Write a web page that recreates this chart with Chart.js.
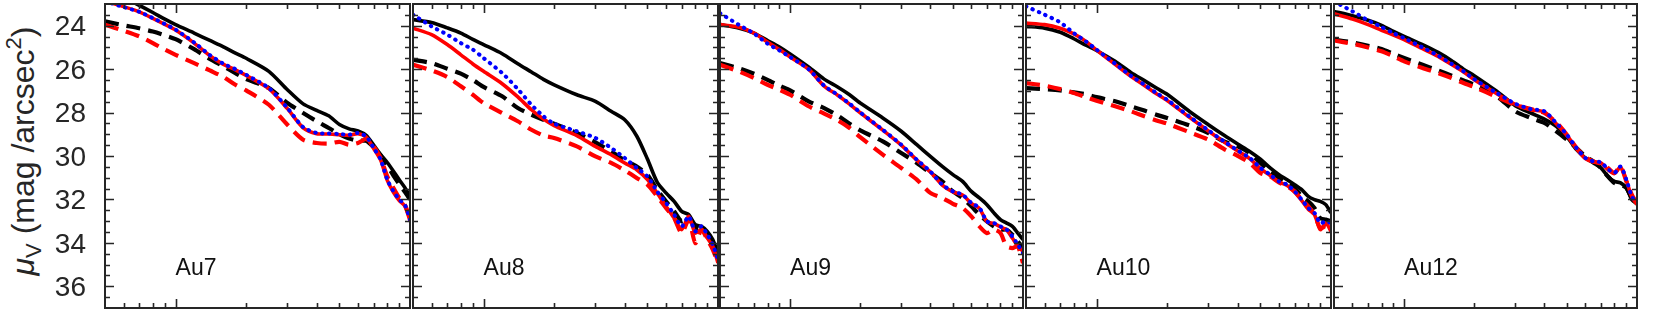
<!DOCTYPE html>
<html>
<head>
<meta charset="utf-8">
<script src="https://cdn.jsdelivr.net/npm/chart.js@4.4.1/dist/chart.umd.min.js"></script>
<style>
body { margin: 0; background: #fff; }
#wrap { position: relative; width: 1661px; height: 314px; overflow: hidden; font-family: "Liberation Sans", Arial, sans-serif; }
#wrap canvas { position: absolute; top: 0; }
#ylab { position: absolute; left: 24px; top: 151px; transform: translate(-50%, -50%) rotate(-90deg);
        white-space: nowrap; font-size: 32px; color: #262626; line-height: 1; }
#ylab sub { font-size: 22px; vertical-align: -7px; }
#ylab sup { font-size: 22px; vertical-align: 13px; }
</style>
</head>
<body>
<div id="wrap">
  <div id="ylab"><i>μ</i><sub>V</sub> (mag /arcsec<sup>2</sup>)</div>
</div>
<script>
// radius grid (log axis), same for every panel
var radii = [5, 6, 7, 8, 9, 10, 12, 14, 16, 18, 20, 25, 30, 35, 40, 45, 50, 55, 60, 65, 70, 75, 80, 85, 90, 95, 100];
var yTicks = [24, 26, 28, 30, 32, 34, 36];
var xTicks = [5, 6, 7, 8, 9, 10, 20, 30, 40, 50, 60, 70, 80, 90, 100];
var panelNames = ['Au7', 'Au8', 'Au9', 'Au10', 'Au12'];

// Au7
var au7BlackSolid = [22.3, 22.7, 23.06, 23.39, 23.7, 23.95, 24.34, 24.68, 24.97, 25.26, 25.5, 26.1, 26.95, 27.6, 27.9, 28.15, 28.55, 28.75, 28.85, 29.05, 29.5, 29.94, 30.3, 30.7, 31.1, 31.45, 31.85];
var au7Blue = [22.88, 23.14, 23.36, 23.65, 23.92, 24.18, 24.77, 25.35, 25.75, 26.0, 26.26, 26.87, 27.79, 28.67, 28.94, 28.96, 28.99, 29.02, 28.94, 29.1, 29.63, 30.17, 31.09, 31.63, 32.0, 32.24, 32.93];
var au7RedSolid = [22.85, 23.12, 23.36, 23.66, 23.94, 24.2, 24.8, 25.38, 25.78, 26.03, 26.29, 26.9, 27.82, 28.7, 28.97, 28.99, 29.02, 29.05, 28.97, 29.13, 29.66, 30.2, 31.12, 31.67, 32.05, 32.3, 32.98];
var au7BlackDashed = [23.8, 23.98, 24.12, 24.27, 24.44, 24.62, 25.08, 25.53, 25.87, 26.18, 26.46, 26.87, 27.56, 28.02, 28.4, 28.71, 29.0, 29.2, 29.3, 29.3, 29.6, 29.98, 30.45, 30.9, 31.3, 31.65, 32.0];
var au7RedDashed = [23.95, 24.23, 24.49, 24.8, 25.1, 25.34, 25.72, 26.06, 26.36, 26.72, 26.98, 27.64, 28.56, 29.25, 29.4, 29.43, 29.35, 29.48, 29.4, 29.22, 29.56, 30.1, 30.94, 31.47, 31.93, 32.24, 32.86];

// Au8
var au8BlackSolid = [23.72, 23.85, 24.1, 24.34, 24.63, 24.87, 25.29, 25.75, 26.13, 26.47, 26.72, 27.18, 27.48, 27.94, 28.33, 29.08, 30.14, 31.2, 31.7, 32.09, 32.55, 32.7, 33.16, 33.24, 33.47, 33.85, 34.47];
var au8Blue = [23.49, 24.03, 24.41, 24.8, 25.1, 25.49, 26.18, 26.92, 27.64, 28.17, 28.51, 28.86, 29.17, 29.63, 30.09, 30.55, 30.94, 31.63, 32.16, 32.7, 33.24, 32.78, 33.47, 33.24, 33.62, 34.08, 34.77];
var au8RedSolid = [24.11, 24.41, 24.87, 25.34, 25.76, 26.1, 26.67, 27.28, 27.87, 28.3, 28.6, 29.06, 29.56, 29.94, 30.32, 30.63, 31.09, 31.7, 32.32, 32.86, 33.39, 32.78, 33.55, 33.39, 33.78, 34.16, 34.93];
var au8BlackDashed = [25.57, 25.72, 25.98, 26.21, 26.5, 26.82, 27.25, 27.79, 28.1, 28.33, 28.51, 28.94, 29.37, 29.79, 30.2, 30.48, 30.86, 31.55, 32.09, 32.55, 33.01, 32.86, 33.32, 33.39, 33.55, 34.0, 34.62];
var au8RedDashed = [25.8, 26.06, 26.36, 26.79, 27.18, 27.56, 28.02, 28.4, 28.79, 29.06, 29.17, 29.56, 30.02, 30.32, 30.66, 31.01, 31.32, 31.86, 32.39, 32.86, 33.55, 32.93, 34.01, 33.39, 33.85, 34.31, 34.93];

// Au9
var au9BlackSolid = [23.95, 24.11, 24.34, 24.68, 24.98, 25.3, 25.9, 26.46, 26.82, 27.18, 27.56, 28.25, 28.86, 29.48, 30.02, 30.48, 30.86, 31.17, 31.63, 31.93, 32.24, 32.62, 32.93, 33.09, 33.24, 33.55, 33.85];
var au9Blue = [23.42, 23.95, 24.36, 24.83, 25.14, 25.44, 26.0, 26.76, 27.18, 27.59, 27.99, 28.79, 29.48, 30.17, 30.71, 31.32, 31.63, 31.78, 32.16, 32.39, 33.01, 33.09, 33.24, 33.39, 33.7, 34.08, 34.47];
var au9RedSolid = [23.95, 24.06, 24.34, 24.75, 25.1, 25.44, 26.0, 26.78, 27.2, 27.61, 28.01, 28.81, 29.5, 30.19, 30.73, 31.34, 31.65, 31.8, 32.18, 32.41, 33.03, 33.11, 33.26, 33.41, 33.78, 34.16, 34.39];
var au9BlackDashed = [25.72, 25.95, 26.21, 26.49, 26.76, 26.98, 27.48, 27.79, 28.14, 28.51, 28.82, 29.33, 29.86, 30.32, 30.78, 31.17, 31.63, 31.93, 32.32, 32.7, 33.01, 33.24, 33.39, 33.39, 33.62, 33.93, 34.24];
var au9RedDashed = [25.8, 26.1, 26.41, 26.72, 26.95, 27.18, 27.71, 28.05, 28.36, 28.71, 29.13, 29.94, 30.55, 31.09, 31.7, 31.93, 32.2, 32.39, 32.78, 33.24, 33.55, 33.39, 33.55, 34.16, 34.24, 34.16, 34.93];

// Au10
var au10BlackSolid = [24.03, 24.11, 24.3, 24.6, 24.9, 25.14, 25.64, 26.15, 26.53, 26.87, 27.16, 27.96, 28.56, 29.05, 29.45, 29.79, 30.15, 30.55, 30.86, 31.09, 31.32, 31.55, 31.86, 32.01, 32.09, 32.24, 32.62];
var au10Blue = [23.11, 23.49, 23.85, 24.34, 24.72, 25.1, 25.75, 26.3, 26.72, 27.1, 27.41, 28.2, 28.82, 29.33, 29.74, 30.09, 30.55, 30.86, 31.17, 31.32, 31.63, 32.01, 32.39, 32.62, 33.09, 33.01, 33.09];
var au10RedSolid = [23.88, 23.95, 24.12, 24.38, 24.72, 25.12, 25.78, 26.33, 26.75, 27.13, 27.44, 28.23, 28.85, 29.36, 29.77, 30.12, 30.58, 30.9, 31.2, 31.36, 31.67, 32.05, 32.45, 32.7, 33.39, 33.09, 33.47];
var au10BlackDashed = [26.87, 26.92, 26.98, 27.07, 27.16, 27.29, 27.48, 27.71, 27.91, 28.1, 28.25, 28.6, 28.94, 29.33, 29.56, 29.86, 30.32, 30.71, 31.01, 31.24, 31.47, 31.86, 32.09, 32.39, 32.86, 32.93, 33.01];
var au10RedDashed = [26.64, 26.76, 26.92, 27.1, 27.29, 27.45, 27.71, 27.94, 28.17, 28.36, 28.51, 28.91, 29.25, 29.68, 29.99, 30.32, 30.78, 30.94, 31.22, 31.4, 31.63, 32.01, 32.32, 32.7, 33.32, 33.24, 33.39];

// Au12
var au12BlackSolid = [23.34, 23.54, 23.75, 23.98, 24.26, 24.49, 24.87, 25.23, 25.61, 26.0, 26.3, 27.02, 27.68, 28.02, 28.3, 28.63, 29.1, 29.71, 30.09, 30.32, 30.55, 30.94, 31.17, 31.24, 31.47, 32.01, 32.2];
var au12Blue = [22.88, 23.34, 23.75, 24.06, 24.34, 24.57, 25.0, 25.38, 25.76, 26.1, 26.46, 27.1, 27.59, 27.84, 27.94, 28.48, 29.02, 29.63, 30.09, 30.25, 30.29, 30.6, 30.78, 30.48, 31.09, 31.86, 32.2];
var au12RedSolid = [23.45, 23.69, 23.95, 24.21, 24.43, 24.64, 25.06, 25.41, 25.79, 26.13, 26.49, 27.13, 27.62, 27.87, 27.97, 28.51, 29.05, 29.66, 30.12, 30.28, 30.32, 30.63, 30.81, 30.51, 31.12, 31.89, 32.23];
var au12BlackDashed = [24.64, 24.77, 24.92, 25.07, 25.3, 25.49, 25.8, 26.06, 26.3, 26.52, 26.72, 27.25, 27.94, 28.25, 28.48, 28.86, 29.25, 29.63, 30.02, 30.25, 30.55, 30.94, 31.24, 31.32, 31.47, 31.93, 32.16];
var au12RedDashed = [24.68, 24.83, 25.0, 25.18, 25.41, 25.64, 25.95, 26.18, 26.41, 26.64, 26.82, 27.28, 27.64, 27.84, 28.02, 28.45, 29.02, 29.63, 30.05, 30.25, 30.36, 30.55, 30.78, 30.48, 31.17, 31.78, 32.2];

var panelSeries = [
  [au7Blue, au7RedSolid, au7RedDashed, au7BlackSolid, au7BlackDashed],
  [au8Blue, au8RedSolid, au8RedDashed, au8BlackSolid, au8BlackDashed],
  [au9Blue, au9RedSolid, au9RedDashed, au9BlackSolid, au9BlackDashed],
  [au10Blue, au10RedSolid, au10RedDashed, au10BlackSolid, au10BlackDashed],
  [au12Blue, au12RedSolid, au12RedDashed, au12BlackSolid, au12BlackDashed]
];

// pixel frame of each panel
var panelLeft = [105, 413, 720, 1026, 1334];
var panelRight = [410, 718, 1023, 1331, 1637];
var frameColor = '#262626';

var framePlugin = {
  id: 'frame',
  afterDraw: function (chart) {
    var ctx = chart.ctx, a = chart.chartArea;
    var xs = chart.scales.x, ys = chart.scales.y;
    ctx.save();
    ctx.strokeStyle = frameColor;
    ctx.lineWidth = 1.6;
    ctx.beginPath();
    // y ticks on both sides, minor every 0.5
    for (var v = 23.5; v < 37; v += 0.5) {
      var py = Math.round(ys.getPixelForValue(v)) + 0.5;
      var len = (yTicks.indexOf(v) >= 0) ? 9 : 5;
      ctx.moveTo(a.left, py); ctx.lineTo(a.left + len, py);
      ctx.moveTo(a.right, py); ctx.lineTo(a.right - len, py);
    }
    // x ticks top and bottom
    xTicks.forEach(function (t) {
      if (t <= 5 || t >= 100) return;
      var px = Math.round(xs.getPixelForValue(t)) + 0.5;
      var len = (t === 10) ? 9 : 5;
      ctx.moveTo(px, a.bottom); ctx.lineTo(px, a.bottom - len);
      ctx.moveTo(px, a.top); ctx.lineTo(px, a.top + len);
    });
    ctx.stroke();
    ctx.lineWidth = 2;
    ctx.strokeRect(a.left, a.top, a.right - a.left, a.bottom - a.top);
    // panel name
    ctx.fillStyle = '#111';
    ctx.font = '23px "Liberation Sans", Arial, sans-serif';
    ctx.textAlign = 'left';
    ctx.textBaseline = 'alphabetic';
    ctx.fillText(chart.options.plugins.frame.name, xs.getPixelForValue(10), ys.getPixelForValue(35.5));
    ctx.restore();
  }
};

function makeDatasets(series) {
  var styles = [
    { color: '#0000ff', width: 4, dash: [0.5, 6.5], cap: 'round' },
    { color: '#ff0000', width: 3.6, dash: [], cap: 'butt' },
    { color: '#ff0000', width: 4.2, dash: [14, 8], cap: 'butt' },
    { color: '#000000', width: 3.6, dash: [], cap: 'butt' },
    { color: '#000000', width: 4.2, dash: [14, 8], cap: 'butt' }
  ];
  return series.map(function (vals, i) {
    return {
      data: radii.map(function (r, k) { return { x: r, y: vals[k] }; }),
      borderColor: styles[i].color,
      borderWidth: styles[i].width,
      borderDash: styles[i].dash,
      borderCapStyle: styles[i].cap,
      pointRadius: 0,
      tension: 0.25,
      fill: false
    };
  });
}

var wrap = document.getElementById('wrap');
for (var p = 0; p < 5; p++) {
  var first = (p === 0);
  var cLeft = first ? 0 : panelLeft[p] - 3;
  var cWidth = panelRight[p] + 3 - cLeft;
  var cv = document.createElement('canvas');
  cv.style.left = cLeft + 'px';
  cv.style.width = cWidth + 'px';
  cv.style.height = '314px';
  cv.width = cWidth; cv.height = 314;
  wrap.appendChild(cv);

  new Chart(cv, {
    type: 'line',
    data: { datasets: makeDatasets(panelSeries[p]) },
    plugins: [framePlugin],
    options: {
      responsive: false,
      animation: false,
      events: [],
      layout: { padding: { left: first ? 0 : 3, right: 3, top: 4, bottom: 6 } },
      plugins: { legend: { display: false }, tooltip: { enabled: false }, frame: { name: panelNames[p] } },
      scales: {
        x: { type: 'logarithmic', min: 5, max: 100, display: false },
        y: {
          type: 'linear', min: 23, max: 37, reverse: true,
          display: first,
          grid: { display: false },
          border: { display: false },
          ticks: { font: { size: 28, family: '"Liberation Sans", Arial, sans-serif' }, color: '#262626', padding: 11, labelOffset: 2 },
          afterBuildTicks: function (scale) { scale.ticks = yTicks.map(function (v) { return { value: v }; }); },
          afterFit: first ? function (scale) { scale.width = 105; scale.paddingTop = 0; scale.paddingBottom = 0; } : undefined
        }
      }
    }
  });
}
</script>
</body>
</html>
